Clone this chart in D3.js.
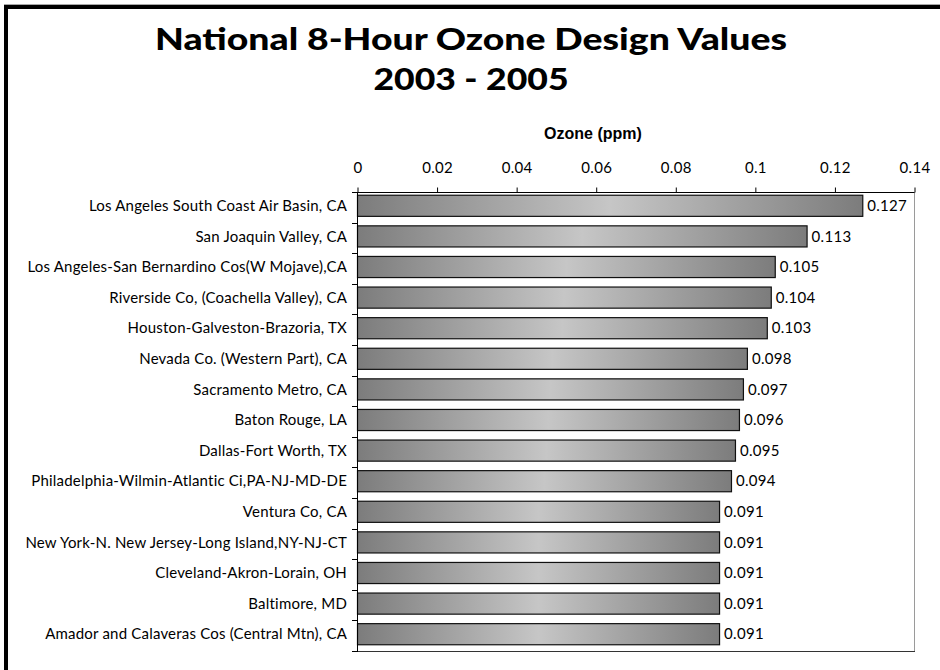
<!DOCTYPE html>
<html><head><meta charset="utf-8">
<script src="https://cdn.jsdelivr.net/npm/d3@7"></script>
<style>body{margin:0;background:#fff}svg{display:block}</style></head>
<body><svg id="c" width="940" height="670"></svg>
<script>
const titleLines = ["National 8-Hour Ozone Design Values", "2003 - 2005"];
const axisTitle = "Ozone (ppm)";
const categories = [
  "Los Angeles South Coast Air Basin, CA",
  "San Joaquin Valley, CA",
  "Los Angeles-San Bernardino Cos(W Mojave),CA",
  "Riverside Co, (Coachella Valley), CA",
  "Houston-Galveston-Brazoria, TX",
  "Nevada Co. (Western Part), CA",
  "Sacramento Metro, CA",
  "Baton Rouge, LA",
  "Dallas-Fort Worth, TX",
  "Philadelphia-Wilmin-Atlantic Ci,PA-NJ-MD-DE",
  "Ventura Co, CA",
  "New York-N. New Jersey-Long Island,NY-NJ-CT",
  "Cleveland-Akron-Lorain, OH",
  "Baltimore, MD",
  "Amador and Calaveras Cos (Central Mtn), CA"
];
const values = [0.127, 0.113, 0.105, 0.104, 0.103, 0.098, 0.097, 0.096, 0.095, 0.094, 0.091, 0.091, 0.091, 0.091, 0.091];
const valueLabels = ["0.127","0.113","0.105","0.104","0.103","0.098","0.097","0.096","0.095","0.094","0.091","0.091","0.091","0.091","0.091"];
const xTickValues = [0, 0.02, 0.04, 0.06, 0.08, 0.1, 0.12, 0.14];
const xTickLabels = ["0", "0.02", "0.04", "0.06", "0.08", "0.1", "0.12", "0.14"];

const svg = d3.select("#c");
const W = 940, H = 670;
const m = {left: 357, right: 914, top: 192, bottom: 651};
const bodyFont = "Lato, 'DejaVu Sans', sans-serif";

// frame
svg.append("line").attr("x1", 4).attr("x2", W).attr("y1", 4.5).attr("y2", 4.5).attr("stroke", "#a8a8a8").attr("stroke-width", 1);
svg.append("rect").attr("x", 4).attr("y", 5).attr("width", W - 4).attr("height", 4).attr("fill", "#000");
svg.append("rect").attr("x", 4).attr("y", 5).attr("width", 4).attr("height", H - 5).attr("fill", "#000");

// title
const titleWidths = [632, 195];
titleLines.forEach((t, i) => {
  svg.append("text").attr("x", 471).attr("y", 50 + i * 40)
    .attr("text-anchor", "middle")
    .attr("textLength", titleWidths[i]).attr("lengthAdjust", "spacingAndGlyphs")
    .style("font-family", "Lato, 'DejaVu Sans', sans-serif")
    .style("font-weight", 900).style("font-size", "31px").attr("fill", "#000")
    .text(t);
});

const x = d3.scaleLinear().domain([0, 0.14]).range([m.left, m.right]);
const y = d3.scaleBand().domain(categories).range([m.top, m.bottom]).padding(0);
const bw = y.bandwidth();
const barH = bw * 0.69;

// gradient
const defs = svg.append("defs");
const g = defs.append("linearGradient").attr("id", "bg").attr("x1", 0).attr("x2", 1).attr("y1", 0).attr("y2", 0);
[[0, "#7c7c7c"], [0.5, "#c6c6c6"], [1, "#7c7c7c"]].forEach(s =>
  g.append("stop").attr("offset", s[0]).attr("stop-color", s[1]));

// plot border right/bottom
svg.append("line").attr("x1", m.right + 0.5).attr("x2", m.right + 0.5).attr("y1", m.top).attr("y2", m.bottom).attr("stroke", "#9a9a9a");
svg.append("line").attr("x1", m.left).attr("x2", m.right + 1).attr("y1", m.bottom + 0.5).attr("y2", m.bottom + 0.5).attr("stroke", "#333");

// bars
svg.selectAll("rect.bar").data(categories).enter().append("rect").attr("class", "bar")
  .attr("x", x(0) + 0.5)
  .attr("y", d => y(d) + (bw - barH) / 2 - 1.5)
  .attr("width", (d, i) => x(values[i]) - x(0))
  .attr("height", barH)
  .attr("fill", "url(#bg)").attr("stroke", "#111").attr("stroke-width", 1.2);

// value labels
svg.selectAll("text.val").data(categories).enter().append("text").attr("class", "val")
  .attr("x", (d, i) => x(values[i]) + 5)
  .attr("y", d => y(d) + bw / 2 - 1.5)
  .attr("dy", "0.35em")
  .style("font-family", bodyFont).style("font-size", "15px").style("letter-spacing", "0.3px").attr("fill", "#000")
  .text((d, i) => valueLabels[i]);

// category labels
svg.selectAll("text.cat").data(categories).enter().append("text").attr("class", "cat")
  .attr("x", m.left - 10)
  .attr("y", d => y(d) + bw / 2 - 1.5)
  .attr("dy", "0.35em").attr("text-anchor", "end")
  .style("font-family", bodyFont).style("font-size", "15px").style("letter-spacing", "0.2px").attr("fill", "#000")
  .text(d => d);

// left axis with ticks at band boundaries
const bounds = categories.map(c => y(c)).concat([m.bottom]);
svg.append("line").attr("x1", m.left + 0.5).attr("x2", m.left + 0.5).attr("y1", m.top).attr("y2", m.bottom + 1).attr("stroke", "#000");
svg.selectAll("line.ytick").data(bounds).enter().append("line").attr("class", "ytick")
  .attr("x1", m.left - 5).attr("x2", m.left).attr("y1", d => Math.round(d) + 0.5).attr("y2", d => Math.round(d) + 0.5)
  .attr("stroke", "#000");

// top axis
const ax = svg.append("g").attr("transform", `translate(0.5,${m.top + 0.5})`)
  .call(d3.axisTop(x).tickValues(xTickValues).tickFormat((d, i) => xTickLabels[i]).tickSize(5).tickSizeOuter(0).tickPadding(15));
ax.select(".domain").attr("stroke", "#000").attr("d", `M${m.left - 5},0H${m.right}`);
ax.selectAll(".tick line").attr("stroke", "#000");
ax.selectAll(".tick text").style("font-family", bodyFont).style("font-size", "15px").style("letter-spacing", "0.3px").attr("fill", "#000");

// axis title
svg.append("text").attr("x", 593).attr("y", 139).attr("text-anchor", "middle")
  .style("font-family", "'Liberation Sans', Arial, sans-serif").style("font-weight", "bold").style("font-size", "16px")
  .text(axisTitle);
</script>
</body></html>
